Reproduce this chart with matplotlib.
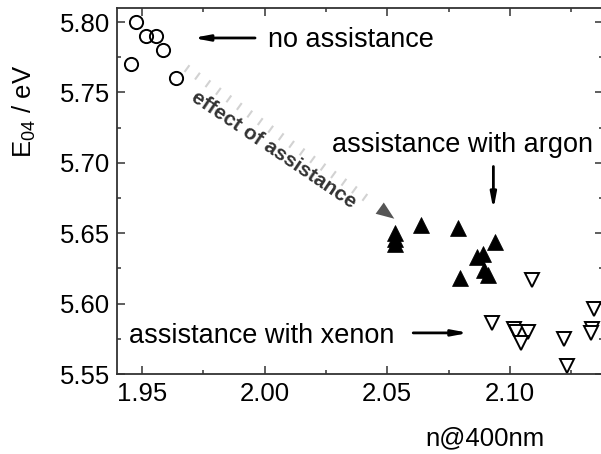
import numpy as np
import matplotlib
matplotlib.use('Agg')
import matplotlib.pyplot as plt
from matplotlib.ticker import MultipleLocator

plt.rcParams['font.family'] = ['Liberation Sans', 'DejaVu Sans']
plt.rcParams['mathtext.fontset'] = 'custom'
plt.rcParams['mathtext.rm'] = 'Liberation Sans'

# refractive index at 400 nm and optical gap E04
no_n = [1.9477, 1.9518, 1.9558, 1.9586, 1.9456, 1.9638]
no_E = [5.800, 5.790, 5.790, 5.780, 5.770, 5.760]

ar_n = [2.0533, 2.0533, 2.0533, 2.0639, 2.0789, 2.0938, 2.0866, 2.0891, 2.0893, 2.0912, 2.0798]
ar_E = [5.650, 5.646, 5.642, 5.656, 5.654, 5.644, 5.633, 5.635, 5.624, 5.620, 5.618]

xe_n = [2.1090, 2.0929, 2.1016, 2.1027, 2.1075, 2.1045, 2.1222, 2.1233, 2.1344, 2.1335, 2.1330]
xe_E = [5.617, 5.586, 5.582, 5.580, 5.580, 5.572, 5.575, 5.556, 5.596, 5.582, 5.579]

x_ticks = [1.95, 2.00, 2.05, 2.10]
y_ticks = [5.55, 5.60, 5.65, 5.70, 5.75, 5.80]

spine_col = '#333333'

fig = plt.figure(figsize=(6.01, 4.54), dpi=100)
ax = fig.add_axes([0.1947, 0.1762, 0.8086, 0.8062])

ax.plot(no_n, no_E, 'o', ms=9.5, mfc='none', mec='black', mew=1.4)
ax.plot(ar_n, ar_E, '^', ms=11, mfc='black', mec='black', mew=0.5)
ax.plot(xe_n, xe_E, 'v', ms=10, mfc='white', mec='black', mew=1.4)

ax.set_xlim(1.9398, 2.138)
ax.set_ylim(5.55, 5.81)
ax.set_xticks(x_ticks)
ax.set_yticks(y_ticks)
ax.set_xticklabels(['%.2f' % v for v in x_ticks])
ax.set_yticklabels(['%.2f' % v for v in y_ticks])
ax.xaxis.set_minor_locator(MultipleLocator(0.025))
ax.yaxis.set_minor_locator(MultipleLocator(0.025))

for s in ax.spines.values():
    s.set_color(spine_col)
    s.set_linewidth(1.3)
ax.tick_params(which='both', direction='in', top=True, right=True,
               color=spine_col, width=1.1)
ax.tick_params(which='major', length=5.5, labelsize=18.5)
ax.tick_params(axis='x', which='major', pad=6)
ax.tick_params(axis='y', which='major', pad=5)
ax.tick_params(which='minor', length=3)

fig.text(24 / 601, 1 - 111 / 454, 'E$_\\mathregular{04}$ / eV', rotation=90,
         ha='center', va='center', fontsize=18.5)
fig.text(485 / 601, 1 - 438 / 454, 'n@400nm', ha='center', va='center', fontsize=18.5)

arrow = dict(arrowstyle='-|>,head_length=0.9,head_width=0.17', color='black',
             lw=2, shrinkA=0, shrinkB=0)

# no assistance
ax.annotate('', xy=(1.9708, 5.7887), xytext=(1.9961, 5.7887), arrowprops=arrow)
ax.text(2.0014, 5.7825, 'no assistance', fontsize=19.5, va='baseline')

# argon
ax.text(2.0274, 5.708, 'assistance with argon', fontsize=19.5, va='baseline')
ax.annotate('', xy=(2.0933, 5.6667), xytext=(2.0933, 5.6974), arrowprops=arrow)

# xenon
ax.text(1.9447, 5.5723, 'assistance with xenon', fontsize=19.5, va='baseline')
ax.annotate('', xy=(2.0832, 5.5792), xytext=(2.0606, 5.5792), arrowprops=arrow)

# effect of assistance: faded dotted shaft with a dark head
start = np.array([1.968, 5.7674])
tip = np.array([2.0529, 5.6603])
k = 0.9
mid = start + k * (tip - start)
ax.plot([start[0], mid[0]], [start[1], mid[1]], color='#d2d2d2', lw=6,
        ls=(0, (0.25, 1.3)), solid_capstyle='butt')
ax.annotate('', xy=tuple(tip), xytext=tuple(start + 0.86 * (tip - start)),
            arrowprops=dict(arrowstyle='-|>,head_length=1.3,head_width=0.5',
                            color='#555555', lw=0, shrinkA=0, shrinkB=0))
ax.text(2.0035, 5.709, 'effect of assistance', fontsize=15, fontweight='bold',
        color='#333333', rotation=-34, rotation_mode='anchor',
        ha='center', va='center')

fig.savefig('out.png', dpi=100)
